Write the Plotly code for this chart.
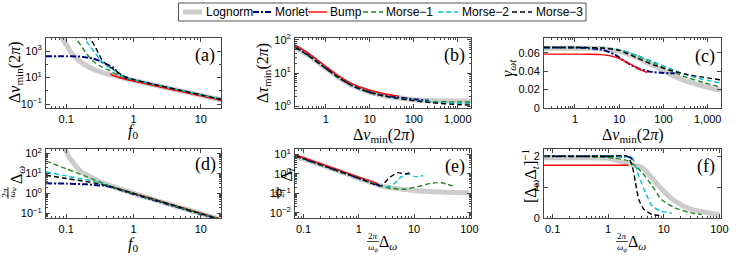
import numpy as np
import plotly.graph_objects as go

W, H = 747, 259

# ---------------- data ----------------
series_names = ["Lognorm", "Morlet", "Bump", "Morse\u22121", "Morse\u22122", "Morse\u22123"]

# (a) Δν_min(2π) vs f0
a_lognorm_x = [0.085, 0.088, 0.099, 0.118, 0.157, 0.223, 0.354, 0.566, 0.8, 1, 2, 5, 10, 20]
a_lognorm_y = [20000, 9300, 3400, 800, 180, 58, 23, 13, 8, 6.2, 2.8, 1.0, 0.46, 0.21]
a_morlet_x = [0.05, 0.1, 0.15, 0.177, 0.25, 0.316, 0.4, 0.5, 0.6, 0.7, 0.8, 1, 2, 5, 10, 20]
a_morlet_y = [420, 420, 400, 370, 275, 182, 100, 58, 20, 11, 8.6, 6.4, 2.9, 1.03, 0.47, 0.215]
a_bump_x = [0.45, 0.5, 0.7, 1, 2, 5, 10, 20]
a_bump_y = [19, 14.5, 8.5, 5.5, 2.5, 0.9, 0.41, 0.19]
a_morse1_x = [0.13, 0.14, 0.167, 0.203, 0.25, 0.316, 0.45, 0.56, 0.7, 1, 2, 5, 10, 20]
a_morse1_y = [20000, 9300, 2500, 590, 180, 76, 32, 17.4, 10.5, 6.6, 3.0, 1.07, 0.49, 0.225]
a_morse2_x = [0.175, 0.1875, 0.223, 0.265, 0.316, 0.399, 0.504, 0.7, 1, 2, 5, 10, 20]
a_morse2_y = [20000, 9300, 2500, 800, 245, 76, 37, 13, 7, 3.1, 1.1, 0.5, 0.23]
a_morse3_x = [0.215, 0.229, 0.265, 0.298, 0.335, 0.399, 0.504, 0.7, 1, 2, 5, 10, 20]
a_morse3_y = [20000, 9300, 2500, 800, 245, 100, 43, 14, 7.2, 3.1, 1.1, 0.5, 0.23]

# (b) Δτ_min(2π) vs Δν_min(2π)
b_x = [0.2, 0.4, 1, 2, 4, 10, 20, 40, 100, 250, 1000, 2000]
b_lognorm_y = [61, 34.5, 14, 7.2, 4.15, 2.6, 2.08, 1.8, 1.55, 1.48, 1.42, 1.42]
b_morse1_y = [60, 34, 13.8, 7.1, 4.1, 2.57, 2.05, 1.76, 1.51, 1.38, 1.32, 1.32]
b_morse2_y = [60, 34, 13.8, 7.1, 4.1, 2.57, 2.04, 1.74, 1.48, 1.32, 1.2, 1.17]
b_morse3_y = [60, 34, 13.8, 7.1, 4.1, 2.57, 2.04, 1.74, 1.45, 1.26, 1.10, 1.07]
b_bump_x = [0.2, 0.4, 1, 2, 4, 10, 20, 45]
b_bump_y = [71, 40, 15.8, 7.9, 4.7, 3.0, 2.4, 2.0]
b_morlet_x = [0.2, 0.4, 1, 2, 4, 10, 20, 40, 100, 220]
b_morlet_y = [62, 35, 14, 7.2, 4.2, 2.6, 2.1, 1.85, 1.6, 1.45]

# (c) γ_ωt vs Δν_min(2π)
c_x = [0.2, 0.5, 1, 2, 4, 10, 25, 60, 140, 300, 650, 2000]
c_lognorm_y = [0.065, 0.065, 0.065, 0.0648, 0.0645, 0.0615, 0.055, 0.046, 0.037, 0.030, 0.025, 0.0192]
c_morse1_y = [0.0657, 0.0657, 0.0657, 0.0656, 0.0652, 0.063, 0.057, 0.049, 0.041, 0.034, 0.029, 0.0225]
c_morse2_y = [0.0657, 0.0657, 0.0657, 0.0656, 0.0654, 0.0632, 0.0572, 0.050, 0.043, 0.0365, 0.032, 0.027]
c_morse3_y = [0.0657, 0.0657, 0.0657, 0.0656, 0.0652, 0.0625, 0.0545, 0.0467, 0.041, 0.037, 0.034, 0.0305]
c_bump_x = [0.2, 0.5, 1, 2, 4, 8, 12, 18, 27, 43]
c_bump_y = [0.0585, 0.0585, 0.0585, 0.0584, 0.058, 0.0555, 0.052, 0.0475, 0.0428, 0.0385]
c_morlet_x = [0.2, 0.5, 1, 2, 4, 8, 11, 18, 30, 50, 100, 180]
c_morlet_y = [0.0656, 0.0656, 0.0656, 0.065, 0.0635, 0.058, 0.0535, 0.047, 0.042, 0.0395, 0.038, 0.0378]

# (d) (2π/ωψ)Δω vs f0
d_lognorm_x = [0.088, 0.1, 0.11, 0.125, 0.158, 0.224, 0.316, 0.447, 0.6, 1, 2, 5, 10, 20]
d_lognorm_y = [250, 120, 65, 37, 14.5, 6.8, 3.8, 2.5, 1.75, 1.02, 0.5, 0.2, 0.1, 0.05]
d_morlet_x = [0.05, 0.1, 0.2, 0.28, 0.35, 0.45, 0.6, 1, 2, 5, 10, 20]
d_morlet_y = [3.2, 3.1, 2.85, 2.6, 2.45, 2.15, 1.6, 0.95, 0.47, 0.19, 0.095, 0.048]
d_bump_x = [0.45, 1, 2, 5, 10, 20]
d_bump_y = [2.3, 1.05, 0.53, 0.21, 0.105, 0.053]
d_morse1_x = [0.05, 0.1, 0.2, 0.355, 0.5, 1, 2, 5, 10, 20]
d_morse1_y = [41, 17, 6.9, 3.2, 2.05, 1.0, 0.5, 0.2, 0.1, 0.05]
d_morse2_x = [0.05, 0.1, 0.2, 0.28, 0.4, 0.5, 1, 2, 5, 10, 20]
d_morse2_y = [11.7, 7.5, 4.8, 3.8, 2.6, 2.05, 1.0, 0.5, 0.2, 0.1, 0.05]
d_morse3_x = [0.05, 0.1, 0.2, 0.28, 0.4, 0.5, 1, 2, 5, 10, 20]
d_morse3_y = [8.1, 5.6, 3.9, 3.2, 2.5, 2.0, 1.0, 0.5, 0.2, 0.1, 0.05]

# (e) (ωψ/2π)Δt vs (2π/ωψ)Δω
e_lognorm_x = [0.07, 0.1, 0.3, 1, 2.5, 4, 10, 30, 100]
e_lognorm_y = [7.8, 5.8, 1.95, 0.58, 0.24, 0.19, 0.14, 0.117, 0.107]
e_morlet_x = [0.07, 0.1, 0.3, 1, 2.4]
e_morlet_y = [8.2, 5.9, 1.97, 0.59, 0.25]
e_bump_x = [0.07, 0.1, 0.3, 1, 2.2]
e_bump_y = [9.5, 6.7, 2.25, 0.68, 0.31]
e_morse1_x = [0.07, 0.1, 0.3, 1, 2.5, 3.9, 6.8, 11.7, 20.4, 30.9, 50]
e_morse1_y = [8.3, 5.8, 1.95, 0.58, 0.235, 0.18, 0.16, 0.22, 0.33, 0.35, 0.24]
e_morse2_x = [0.07, 0.1, 0.3, 1, 2.5, 3.4, 4.5, 5.9, 7.8, 10.2, 14.5]
e_morse2_y = [8.5, 6.0, 2.0, 0.6, 0.24, 0.22, 0.33, 0.72, 1.0, 0.72, 0.8]
e_morse3_x = [0.07, 0.1, 0.3, 1, 2.5, 3.6, 5.1, 6.8, 8.7]
e_morse3_y = [8.5, 6.0, 2.0, 0.6, 0.24, 0.65, 1.15, 0.98, 1.15]

# (f) [Δω Δt]^-1 vs (2π/ωψ)Δω
f_lognorm_x = [0.07, 0.3, 1, 2.3, 4.1, 8.1, 15.8, 31.6, 100]
f_lognorm_y = [1.95, 1.95, 1.93, 1.75, 1.63, 1.04, 0.55, 0.28, 0.11]
f_morlet_x = [0.07, 0.5, 1, 2, 2.5, 2.8]
f_morlet_y = [2.0, 2.0, 2.0, 1.99, 1.96, 1.88]
f_bump_x = [0.07, 2.3]
f_bump_y = [1.71, 1.71]
f_morse1_x = [0.07, 0.3, 1, 2.3, 4.1, 6.2, 9.1, 15.8, 27.5, 48]
f_morse1_y = [2.0, 1.99, 1.96, 1.85, 1.47, 1.04, 0.6, 0.33, 0.19, 0.11]
f_morse2_x = [0.07, 0.5, 1, 2, 2.7, 3.55, 4.7, 6.2, 9.1, 14]
f_morse2_y = [2.0, 2.0, 2.0, 1.99, 1.95, 1.36, 0.82, 0.38, 0.22, 0.15]
f_morse3_x = [0.07, 0.5, 1, 2.2, 2.7, 3.1, 3.55, 4.4, 6.2, 9.1]
f_morse3_y = [2.0, 2.0, 2.0, 2.0, 1.69, 1.15, 0.6, 0.28, 0.11, 0.08]

# ---------------- styles ----------------
styles = {
    "Lognorm": dict(color="#cccccc", width=5, dash="solid"),
    "Morlet": dict(color="#000080", width=2, dash="6px,2px,2px,2px"),
    "Bump": dict(color="#ff0000", width=1.4, dash="solid"),
    "Morse\u22121": dict(color="#1e8c1e", width=1.4, dash="5px,3px"),
    "Morse\u22122": dict(color="#00c3d3", width=1.4, dash="5px,3px"),
    "Morse\u22123": dict(color="#000000", width=1.4, dash="5px,3px"),
}

panels = {
    1: [(a_lognorm_x, a_lognorm_y), (a_morlet_x, a_morlet_y), (a_bump_x, a_bump_y),
        (a_morse1_x, a_morse1_y), (a_morse2_x, a_morse2_y), (a_morse3_x, a_morse3_y)],
    2: [(b_x, b_lognorm_y), (b_morlet_x, b_morlet_y), (b_bump_x, b_bump_y),
        (b_x, b_morse1_y), (b_x, b_morse2_y), (b_x, b_morse3_y)],
    3: [(c_x, c_lognorm_y), (c_morlet_x, c_morlet_y), (c_bump_x, c_bump_y),
        (c_x, c_morse1_y), (c_x, c_morse2_y), (c_x, c_morse3_y)],
    4: [(d_lognorm_x, d_lognorm_y), (d_morlet_x, d_morlet_y), (d_bump_x, d_bump_y),
        (d_morse1_x, d_morse1_y), (d_morse2_x, d_morse2_y), (d_morse3_x, d_morse3_y)],
    5: [(e_lognorm_x, e_lognorm_y), (e_morlet_x, e_morlet_y), (e_bump_x, e_bump_y),
        (e_morse1_x, e_morse1_y), (e_morse2_x, e_morse2_y), (e_morse3_x, e_morse3_y)],
    6: [(f_lognorm_x, f_lognorm_y), (f_morlet_x, f_morlet_y), (f_bump_x, f_bump_y),
        (f_morse1_x, f_morse1_y), (f_morse2_x, f_morse2_y), (f_morse3_x, f_morse3_y)],
}

fig = go.Figure()
for p, lst in panels.items():
    sfx = "" if p == 1 else str(p)
    for name, (xs, ys) in zip(series_names, lst):
        st = styles[name]
        fig.add_trace(go.Scatter(
            x=xs, y=ys, mode="lines", name=name,
            line=dict(color=st["color"], width=st["width"], dash=st["dash"], shape="spline", smoothing=0.6),
            showlegend=False, legendgroup=name,
            xaxis="x" + sfx, yaxis="y" + sfx, hoverinfo="skip"))

# ---------------- axes ----------------
def px(x):
    return x / W

def py(y):
    return 1 - y / H

SANS = "Liberation Sans, Arial, sans-serif"
TICKFONT = dict(family=SANS, size=11, color="black")
FRAME = "#444444"

def log_minor(lo, hi, per=(2, 3, 4, 5, 6, 7, 8, 9)):
    out = []
    for k in range(int(np.floor(lo)) - 1, int(np.ceil(hi)) + 1):
        for m in per:
            v = m * 10.0 ** k
            if 10 ** lo <= v <= 10 ** hi:
                out.append(v)
    return out

def make_axis(domain, typ, rng, tickvals, ticktext, minorvals, anchor):
    ax = dict(domain=domain, type=typ, range=rng, anchor=anchor,
              tickmode="array", tickvals=tickvals, ticktext=ticktext,
              ticks="inside", ticklen=4, tickwidth=1, tickcolor=FRAME,
              showline=True, linecolor=FRAME, linewidth=1, mirror="ticks",
              showgrid=False, zeroline=False, tickfont=TICKFONT, ticklabelstandoff=1)
    if minorvals:
        ax["minor"] = dict(tickmode="array", tickvals=minorvals, ticks="inside",
                           ticklen=2, tickwidth=1, tickcolor=FRAME, showgrid=False)
    return ax

colx = [(px(46), px(221)), (px(295), px(471)), (px(544), px(721))]
rowy = [(py(108), py(38)), (py(218), py(148.5))]

xa_f0 = [np.log10(0.05), np.log10(20)]
xa_nu = [-0.7, 3.3]
xa_dw = [np.log10(0.07), 2.03]

layout_axes = {}
layout_axes["xaxis"] = make_axis(colx[0], "log", xa_f0, [0.1, 1, 10], ["0.1", "1", "10"], log_minor(*xa_f0), "y")
layout_axes["xaxis2"] = make_axis(colx[1], "log", xa_nu, [1, 10, 100, 1000], ["1", "10", "100", "1,000"], log_minor(*xa_nu), "y2")
layout_axes["xaxis3"] = make_axis(colx[2], "log", xa_nu, [1, 10, 100, 1000], ["1", "10", "100", "1,000"], log_minor(*xa_nu), "y3")
layout_axes["xaxis4"] = make_axis(colx[0], "log", xa_f0, [0.1, 1, 10], ["0.1", "1", "10"], log_minor(*xa_f0), "y4")
layout_axes["xaxis5"] = make_axis(colx[1], "log", xa_dw, [0.1, 1, 10, 100], ["0.1", "1", "10", "100"], log_minor(*xa_dw), "y5")
layout_axes["xaxis6"] = make_axis(colx[2], "log", xa_dw, [0.1, 1, 10, 100], ["0.1", "1", "10", "100"], log_minor(*xa_dw), "y6")
layout_axes["yaxis"] = make_axis(rowy[0], "log", [-1.3, 4.0], [0.1, 10, 1000],
                                 ["10<sup>\u22121</sup>", "10<sup>1</sup>", "10<sup>3</sup>"],
                                 [1, 100, 10000], "x")
layout_axes["yaxis2"] = make_axis(rowy[0], "log", [-0.06, 2.06], [1, 10, 100],
                                  ["10<sup>0</sup>", "10<sup>1</sup>", "10<sup>2</sup>"],
                                  log_minor(-0.06, 2.06), "x2")
layout_axes["yaxis3"] = make_axis(rowy[0], "linear", [0, 0.076], [0, 0.02, 0.04, 0.06],
                                  ["0", "0.02", "0.04", "0.06"], None, "x3")
layout_axes["yaxis4"] = make_axis(rowy[1], "log", [-1.22, 2.24], [0.1, 1, 10, 100],
                                  ["10<sup>\u22121</sup>", "10<sup>0</sup>", "10<sup>1</sup>", "10<sup>2</sup>"],
                                  log_minor(-1.22, 2.24), "x4")
layout_axes["yaxis5"] = make_axis(rowy[1], "log", [-2.27, 1.3], [0.01, 0.1, 1, 10],
                                  ["10<sup>\u22122</sup>", "10<sup>\u22121</sup>", "10<sup>0</sup>", "10<sup>1</sup>"],
                                  log_minor(-2.27, 1.3), "x5")
layout_axes["yaxis6"] = make_axis(rowy[1], "linear", [0, 2.25], [0, 1, 2], ["0", "1", "2"], None, "x6")

# ---------------- annotations (titles, panel labels, key) ----------------
SERIF = "Liberation Serif, Times New Roman, serif"
ann = []
shapes = []

def txt(x, y, text, size=16, angle=0, xanchor="center", yanchor="middle", family=SERIF):
    ann.append(dict(x=px(x), y=py(y), xref="paper", yref="paper", text=text, showarrow=False,
                    textangle=angle, xanchor=xanchor, yanchor=yanchor,
                    font=dict(family=family, size=size, color="black")))

def hline(x0, x1, y, **line):
    shapes.append(dict(type="line", xref="paper", yref="paper", x0=px(x0), x1=px(x1),
                       y0=py(y), y1=py(y), line=line))

def vline(x, y0, y1, **line):
    shapes.append(dict(type="line", xref="paper", yref="paper", x0=px(x), x1=px(x),
                       y0=py(y0), y1=py(y1), line=line))

nu_min = "\u0394<i>\u03bd</i><sub>min</sub>(2<i>\u03c0</i>)"
tau_min = "\u0394<i>\u03c4</i><sub>min</sub>(2<i>\u03c0</i>)"
f0 = "<i>f</i><sub>0</sub>"
two_pi = "2<i>\u03c0</i>"
om_psi = "<i>\u03c9</i><sub><i>\u03c8</i></sub>"

# top row
txt(15, 73, nu_min, angle=-90)
txt(133, 131, f0)
txt(263, 73, tau_min, angle=-90)
txt(383, 135.5, nu_min)
txt(509, 68, "<i>\u03b3</i><sub><i>\u03c9t</i></sub>", angle=-90)
txt(632, 135.5, nu_min)
# bottom row
txt(4.5, 193, two_pi, size=9, angle=-90)
txt(11.5, 193, om_psi, size=9, angle=-90)
vline(8, 187, 199, color="black", width=0.7)
txt(17, 175, "\u0394<sub><i>\u03c9</i></sub>", angle=-90)
txt(133, 244, f0)
txt(274.5, 193, om_psi, size=9, angle=-90)
txt(281, 193, two_pi, size=9, angle=-90)
vline(278, 187, 199, color="black", width=0.7)
txt(286.5, 175, "\u0394<sub><i>t</i></sub>", angle=-90)
txt(373, 236, two_pi, size=9)
txt(373, 247, om_psi, size=9)
hline(367, 379, 241.5, color="black", width=0.7)
txt(388, 242.5, "\u0394<sub><i>\u03c9</i></sub>")
txt(530, 176, "[\u0394<sub><i>\u03c9</i></sub>\u0394<sub><i>t</i></sub>]<sup>\u22121</sup>", angle=-90)
txt(622, 236, two_pi, size=9)
txt(622, 247, om_psi, size=9)
hline(616, 628, 241.5, color="black", width=0.7)
txt(637, 242.5, "\u0394<sub><i>\u03c9</i></sub>")

# panel labels
for lab, xr, yc in [("(a)", 217, 55), ("(b)", 467, 55), ("(c)", 717, 56),
                    ("(d)", 218, 164), ("(e)", 467, 166), ("(f)", 717, 166)]:
    txt(xr, yc, lab, size=18, xanchor="right")

# key (legend box with sample lines and series names)
shapes.append(dict(type="rect", xref="paper", yref="paper", x0=px(178.5), x1=px(586), y0=py(21), y1=py(3),
                   line=dict(color="#555555", width=1), fillcolor="white", layer="above"))
key_pos = [(183, 202, 203.5), (253, 272, 272.5), (308, 327, 328), (363, 383, 384.5), (438, 458, 459.5), (512, 532, 533.5)]
for name, (s0, s1, tx) in zip(series_names, key_pos):
    st = styles[name]
    hline(s0, s1, 12, color=st["color"], width=st["width"], dash=st["dash"])
    txt(tx, 12, name, size=12, xanchor="left", family=SANS)

fig.update_layout(
    width=W, height=H, margin=dict(l=0, r=0, t=0, b=0, autoexpand=False),
    paper_bgcolor="white", plot_bgcolor="white",
    showlegend=False,
    annotations=ann, shapes=shapes,
    **layout_axes,
)

fig.write_html("out.html", config={"displayModeBar": False},
               post_script="document.body.style.margin='0px';document.body.style.padding='0px';")
